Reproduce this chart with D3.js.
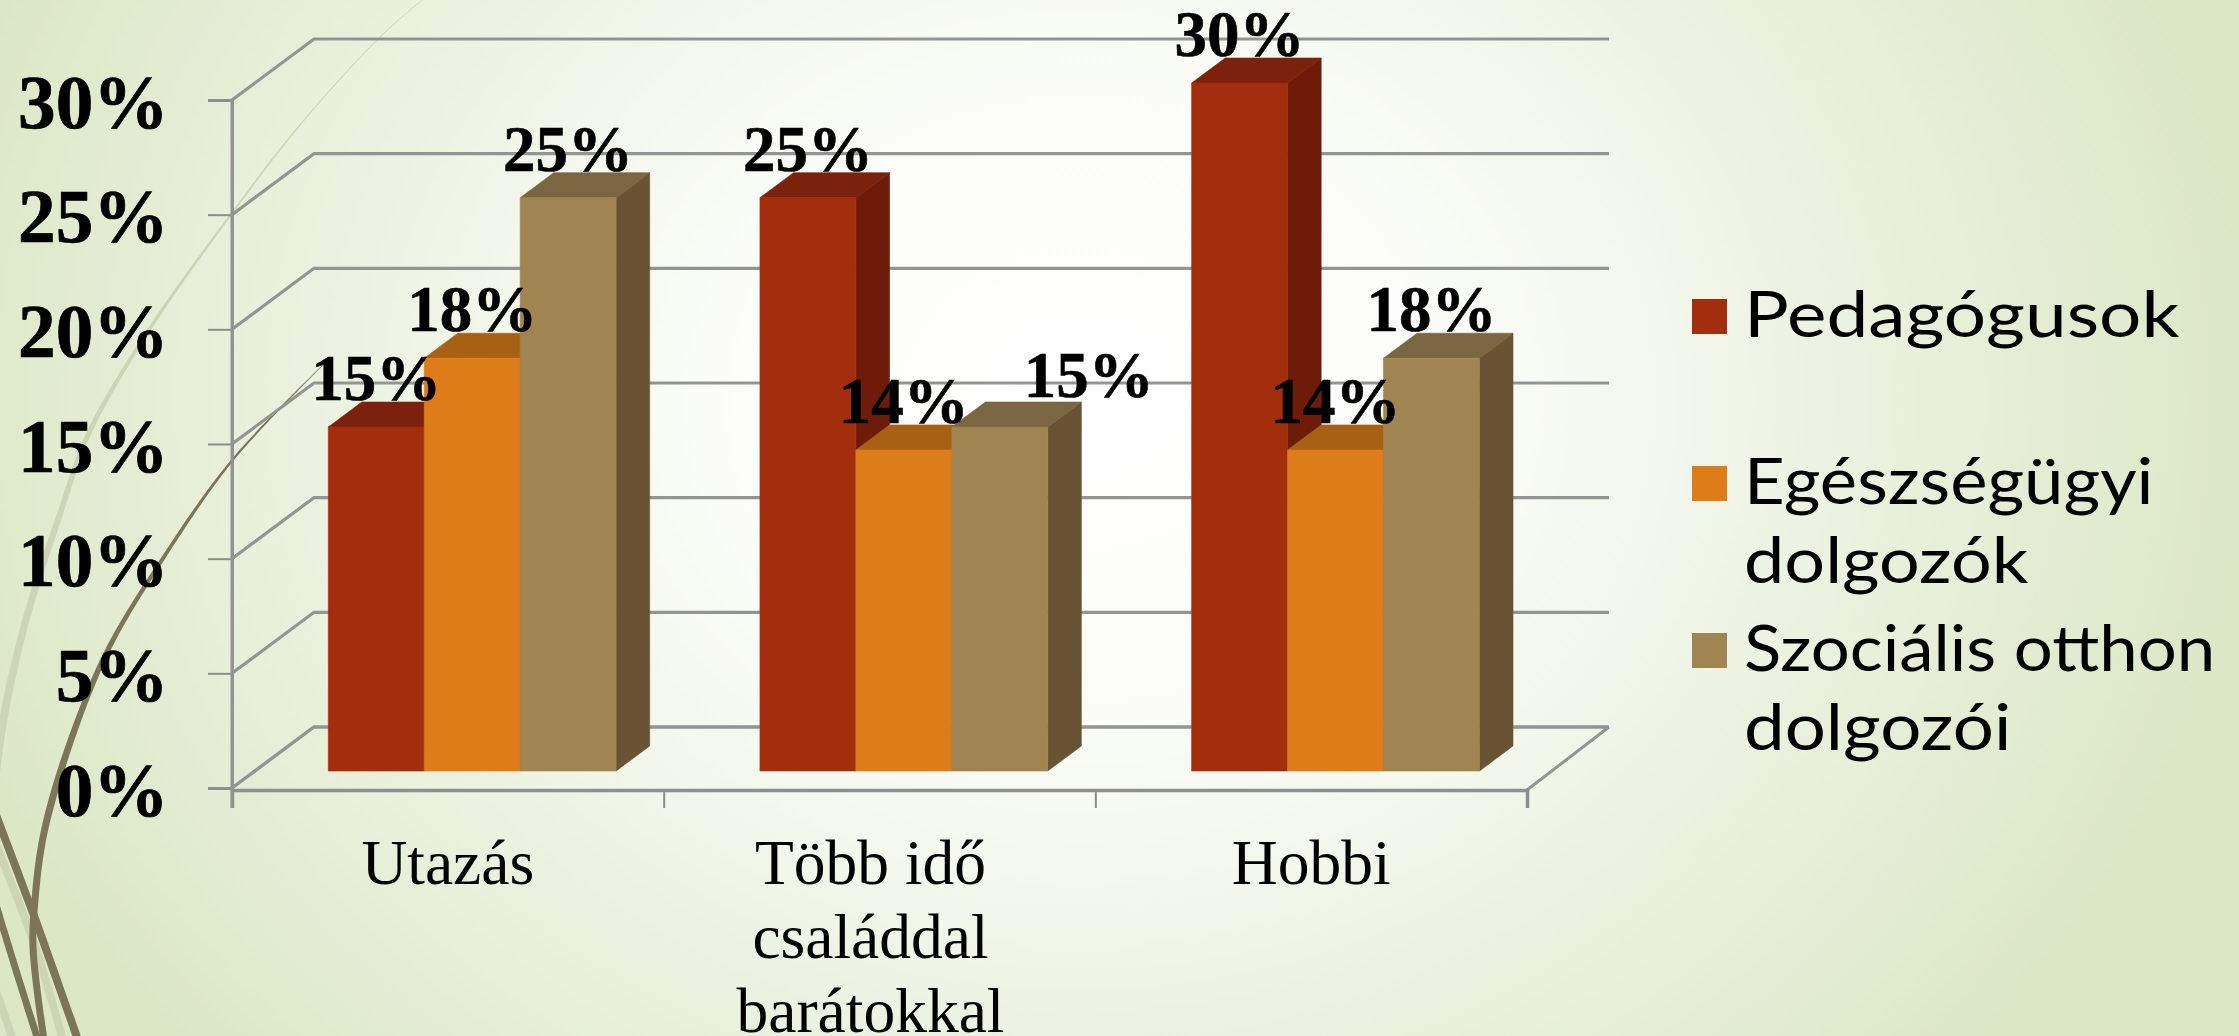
<!DOCTYPE html>
<html><head><meta charset="utf-8">
<script src="https://cdn.jsdelivr.net/npm/d3@7/dist/d3.min.js"></script>
<style>html,body{margin:0;padding:0;background:#fff;overflow:hidden}svg{display:block}</style>
</head><body><div id="chart"></div>
<script>
const categories = ["Utazás", "Több idő családdal barátokkal", "Hobbi"];
const categoryLines = [["Utazás"], ["Több idő", "családdal", "barátokkal"], ["Hobbi"]];
const seriesNames = ["Pedagógusok", "Egészségügyi dolgozók", "Szociális otthon dolgozói"];
const seriesLines = [["Pedagógusok"], ["Egészségügyi", "dolgozók"], ["Szociális otthon", "dolgozói"]];
const pedagogusok = [15, 25, 30];
const egeszsegugyi = [18, 14, 14];
const szocialis = [25, 15, 18];
const yTicks = [0, 5, 10, 15, 20, 25, 30];
const frontColors = ["#a32e0e", "#de7c19", "#a08552"];
const topColors = ["#7c210b", "#a86012", "#7a6640"];
const sideColors = ["#6e1c09", "#8f5210", "#685434"];
const legendStretch = [[1.169], [1.103, 1.125], [1.077, 1.135]];

const W = 2239, H = 1036;
const values = [pedagogusok, egeszsegugyi, szocialis];
const depthX = 82, depthY = 61, barD0 = 17 / 61, barD1 = 42 / 61, barNudge = 1.5;

const svg = d3.select("#chart").append("svg").attr("width", W).attr("height", H);
const defs = svg.append("defs");
const grad = defs.append("radialGradient").attr("id", "bg").attr("gradientUnits", "userSpaceOnUse")
  .attr("cx", 0).attr("cy", 0).attr("r", 1)
  .attr("gradientTransform", "translate(1080,400) scale(1180,1000)");
[[0, "#ffffff"], [0.28, "#fcfdfa"], [0.5, "#f3f7ec"], [0.72, "#e8f0da"], [1, "#dce7c6"]]
  .forEach(([o, c]) => grad.append("stop").attr("offset", o).attr("stop-color", c));
defs.append("filter").attr("id", "soft").attr("x", "-5%").attr("y", "-5%").attr("width", "110%").attr("height", "110%")
  .append("feGaussianBlur").attr("stdDeviation", 0.5);
svg.append("rect").attr("width", W).attr("height", H).attr("fill", "url(#bg)");

// decorative theme wisps
function ribbon(pts, fill) {
  const left = [], right = [];
  pts.forEach((p, i) => {
    const a = pts[Math.max(i - 1, 0)], b = pts[Math.min(i + 1, pts.length - 1)];
    const dx = b[0] - a[0], dy = b[1] - a[1], l = Math.hypot(dx, dy);
    left.push([p[0] - dy / l * p[2] / 2, p[1] + dx / l * p[2] / 2]);
    right.push([p[0] + dy / l * p[2] / 2, p[1] - dx / l * p[2] / 2]);
  });
  const line = d3.line().curve(d3.curveCatmullRom);
  svg.append("path").attr("fill", fill)
    .attr("d", line(left) + "L" + line(right.reverse()).slice(1) + "Z");
}
const wispLight = "#cdd5b6", wispDark = "#7d7558";
ribbon([[422,0,0.6],[379,38,0.8],[300,125,1.2],[232,213,2],[147,333,3.5],[89,433,5],[58,520,6],[27,616,7],[4,716,8],[-6,790,8]], wispLight);
ribbon([[-8,835,8],[33,940,8],[63,1040,8]], wispLight);
ribbon([[-6,985,8],[13,1040,8]], wispLight);
ribbon([[323,365,0.5],[230,463,2.5],[160,563,4],[113,640,5],[87,697,6],[57,783,7],[42,843,7],[35,900,7],[33,947,7],[44,1040,7]], wispDark);
ribbon([[-4,815,8],[33,913,8],[78,1040,8]], wispDark);
ribbon([[-4,905,7],[20,983,7],[38,1040,7]], wispDark);

// scales
const y = d3.scaleLinear().domain([0, 30]).range([788, 100]);
const xFloor = d3.scaleLinear().domain([0, 3]).range([232, 1527]);
const xCat = d3.scaleBand().domain(categories).range([232, 1527]).paddingInner(1 / 3).paddingOuter(1 / 6);
const xSeries = d3.scaleBand().domain(seriesNames).range([0, xCat.bandwidth()]);
const project = (x, v, d) => [x + depthX * d, y(v) - depthY * d];

// grid on back and side walls
const gridGroup = svg.append("g").attr("fill", "none").attr("stroke", "#949494").attr("filter", "url(#soft)");
yTicks.forEach(v => {
  gridGroup.append("path").attr("stroke-width", v === 0 ? 3.4 : 3.2)
    .attr("d", d3.line()([project(xFloor(0), v, 0), project(xFloor(0), v, 1), project(xFloor(3), v, 1)]));
});
gridGroup.append("path").attr("stroke-width", 3)
  .attr("d", d3.line()([[xFloor(3), y(0) + 2], [xFloor(3) + depthX, y(0) - depthY]]));

// axes
const yAxis = d3.axisLeft(y).tickValues(yTicks).tickSize(24).tickFormat(d => d + "%");
const yG = svg.append("g").attr("transform", `translate(${xFloor(0)},0)`).call(yAxis);
yG.select(".domain").attr("stroke", "#939393").attr("stroke-width", 3);
yG.selectAll(".tick line").attr("stroke", "#8c8c8c").attr("stroke-width", 2);
yG.selectAll(".tick text").attr("font-family", "'Liberation Serif'").attr("font-weight", "bold")
  .attr("font-size", 76).attr("fill", "#000").attr("stroke", "#000").attr("stroke-width", 0.7).attr("text-anchor", "end")
  .attr("dy", 0).attr("y", 27).attr("x", -63.5 / 0.99).attr("transform", "scale(0.99,1)");

const xAxis = d3.axisBottom(xFloor).tickValues([0, 1, 2, 3]).tickSize(18).tickFormat("");
const xG = svg.append("g").attr("transform", `translate(0,${y(0) + 2})`).call(xAxis);
xG.select(".domain").attr("stroke", "#8f8f8f").attr("stroke-width", 3.5);
xG.selectAll(".tick line").attr("stroke", "#8c8c8c").attr("stroke-width", 2);
svg.append("line").attr("x1", xFloor(0)).attr("x2", xFloor(0)).attr("y1", y(30)).attr("y2", y(0) + 20)
  .attr("stroke", "#939393").attr("stroke-width", 3);

// 3-D bars, painted left to right
const barLine = d3.line();
const barsG = svg.append("g");
categories.forEach((cat, ci) => {
  seriesNames.forEach((s, si) => {
    const v = values[si][ci];
    const x0 = xCat(cat) + xSeries(s) + barNudge, x1 = x0 + xSeries.bandwidth();
    const poly = (pts, fill) => barsG.append("path").attr("d", barLine(pts) + "Z").attr("fill", fill)
      .attr("stroke", fill).attr("stroke-width", 0.6);
    poly([project(x1, 0, barD0), project(x1, 0, barD1), project(x1, v, barD1), project(x1, v, barD0)], sideColors[si]);
    poly([project(x0, v, barD0), project(x1, v, barD0), project(x1, v, barD1), project(x0, v, barD1)], topColors[si]);
    poly([project(x0, 0, barD0), project(x1, 0, barD0), project(x1, v, barD0), project(x0, v, barD0)], frontColors[si]);
  });
});

// data labels
const labelShift = { "1-2": [89, -3] };
const labelG = svg.append("g").attr("font-family", "'Liberation Serif'").attr("font-weight", "bold")
  .attr("font-size", 66).attr("fill", "#000").attr("stroke", "#000").attr("stroke-width", 0.6).attr("text-anchor", "middle");
categories.forEach((cat, ci) => {
  seriesNames.forEach((s, si) => {
    const v = values[si][ci];
    const shift = labelShift[ci + "-" + si] || [0, 0];
    const cx = xCat(cat) + xSeries(s) + xSeries.bandwidth() / 2 + depthX * barD0 + barNudge + shift[0];
    const by = project(0, v, barD1)[1] - 2 + shift[1];
    labelG.append("text").attr("transform", `translate(${cx},${by}) scale(0.985,1)`).text(v + "%");
  });
});

// category labels
const catLabelShift = [0, -9, 0];
categories.forEach((cat, ci) => {
  categoryLines[ci].forEach((t, li) => {
    svg.append("text").attr("x", xCat(cat) + xCat.bandwidth() / 2 + catLabelShift[ci]).attr("y", 884 + li * 74)
      .attr("font-family", "'Liberation Serif'").attr("font-size", 63.5).attr("fill", "#000")
      .attr("text-anchor", "middle").text(t);
  });
});

// legend
const legendY = d3.scalePoint().domain(seriesNames).range([299, 633]);
seriesNames.forEach((s, si) => {
  svg.append("rect").attr("x", 1692).attr("y", legendY(s)).attr("width", 35).attr("height", 35).attr("fill", frontColors[si]);
  seriesLines[si].forEach((t, li) => {
    svg.append("text").attr("transform", `translate(1744,${legendY(s) + 38 + li * 79}) scale(${legendStretch[si][li]},1)`)
      .attr("font-family", "Lato").attr("font-size", 64).attr("fill", "#000").text(t);
  });
});
</script></body></html>
